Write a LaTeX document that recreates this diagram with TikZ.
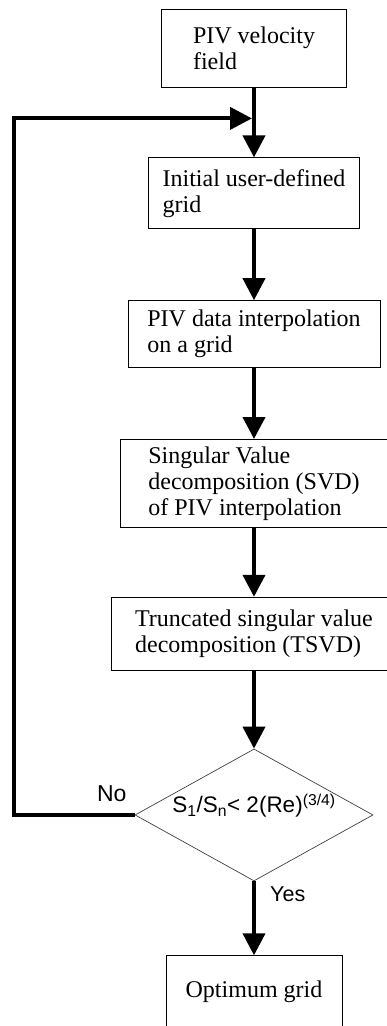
\documentclass[tikz,border=0pt]{standalone}
\usepackage{fontspec}
\setmainfont{Liberation Serif}
\setsansfont{Liberation Sans}
\usetikzlibrary{arrows.meta,positioning,shapes.geometric}
\tikzstyle{block} = [draw, line width=0.8pt, align=left, inner sep=0pt, font=\fontsize{24}{26}\selectfont]
\tikzstyle{decision} = [draw=black!75, line width=0.7pt, diamond, aspect=1.8, inner sep=0pt, minimum width=238pt, minimum height=132pt, font=\sffamily\fontsize{22.5}{24}\selectfont]
\tikzstyle{line} = [draw, line width=4pt, -{Triangle[width=22pt,length=22pt]}]

\begin{document}
\begin{tikzpicture}[x=1pt,y=1pt]
        \useasboundingbox (0,0) rectangle (386,-1026);
        \node [block, minimum width=185pt, minimum height=78pt] (1) at (254,-48) {PIV velocity\\field};
        \node [block, minimum width=211pt, minimum height=71pt, below = 70pt of 1] (2) {Initial user-defined\\grid};
        \node [block, minimum width=252pt, minimum height=67pt, below = 71pt of 2] (3) {PIV data interpolation\\on a grid};
        \node [block, minimum width=268pt, minimum height=88pt, below = 71pt of 3] (4) {Singular Value\\decomposition (SVD)\\of PIV interpolation};
        \node [block, minimum width=286pt, minimum height=73pt, below = 69pt of 4] (5) {Truncated singular value\\decomposition (TSVD)};
        \node [decision, text height=10pt, text depth=14pt, below = 78pt of 5] (7) {S\textsubscript{1}/S\textsubscript{n}< 2(Re)\textsuperscript{(3/4)}};
        \node [block, minimum width=176pt, text height=42pt, text depth=47pt, below = 74pt of 7] (6) {Optimum grid};
        \coordinate [below = 31pt of 1] (j);
        % loop back when the test fails
        \draw [line, shorten >=2pt] (7.west) -- ++(-121pt,0) |- (j);
        \draw [line] (1) -- (2);
        \draw [line] (2) -- (3);
        \draw [line] (3) -- (4);
        \draw [line] (4) -- (5);
        \draw [line] (5) -- (7);
        \draw [line] (7) -- (6);
        \node [font=\sffamily\fontsize{23}{24}\selectfont, inner sep=0pt, above left = 13pt and 8pt of 7.west] (8) {No};
        \node [font=\sffamily\fontsize{21.5}{24}\selectfont, inner sep=0pt, anchor=base west] (9) at ([shift={(16pt,-20pt)}]7.south) {Yes};
    \end{tikzpicture}
\end{document}
